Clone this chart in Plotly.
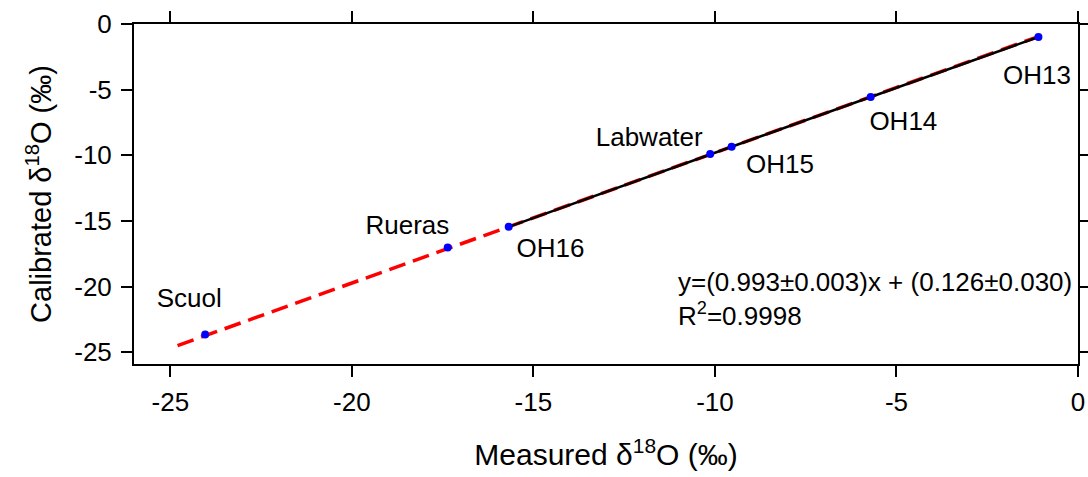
import plotly.graph_objects as go

names = ["Scuol", "Rueras", "OH16", "Labwater", "OH15", "OH14", "OH13"]
measured = [-24.04, -17.36, -15.68, -10.13, -9.54, -5.71, -1.09]
calibrated = [-23.65, -17.02, -15.45, -9.91, -9.35, -5.56, -0.99]

# label positions (data coords)
label_x = [-24.48, -18.47, -14.53, -11.81, -8.21, -4.81, -1.13]
label_y = [-21.04, -15.47, -17.23, -8.77, -10.88, -7.57, -4.08]

# calibration standards (black line)
std_names = ["OH16", "Labwater", "OH15", "OH14", "OH13"]

slope = 0.993
intercept = 0.126
fit_x = [-24.8, -1.09]
fit_y = [slope * v + intercept for v in fit_x]

x_ticks = [-25, -20, -15, -10, -5, 0]
x_ticktext = ["-25", "-20", "-15", "-10", "-5", "0"]
y_ticks = [0, -5, -10, -15, -20, -25]
y_ticktext = ["0", "-5", "-10", "-15", "-20", "-25"]

FONT = "Liberation Sans, Arial, sans-serif"

fig = go.Figure()
fig.add_trace(go.Scatter(x=fit_x, y=fit_y, mode="lines",
                         line=dict(color="#ff0000", width=3.5, dash="17px,8px"),
                         showlegend=False, hoverinfo="skip"))
sx = [m for n, m in zip(names, measured) if n in std_names]
sy = [c for n, c in zip(names, calibrated) if n in std_names]
fig.add_trace(go.Scatter(x=sx, y=sy, mode="lines",
                         line=dict(color="black", width=2.5),
                         showlegend=False))
fig.add_trace(go.Scatter(x=measured, y=calibrated, mode="markers",
                         marker=dict(color="#0000ff", size=8),
                         showlegend=False))
fig.add_trace(go.Scatter(x=label_x, y=label_y, mode="text", text=names,
                         textfont=dict(family=FONT, size=26, color="black"),
                         showlegend=False))

fig.add_annotation(x=-11.08, y=-20.96, xref="x", yref="y", xanchor="left", yanchor="middle",
                   align="left", showarrow=False,
                   text="y=(0.993±0.003)x + (0.126±0.030)<br>R<sup>2</sup>=0.9998",
                   font=dict(family=FONT, size=26, color="black"))

axis_common = dict(showline=True, linecolor="black", linewidth=2, mirror="ticks",
                   ticks="outside", ticklen=11, tickwidth=2, tickcolor="black",
                   showgrid=False, zeroline=False, automargin=False,
                   tickfont=dict(family=FONT, size=26, color="black"))

fig.update_xaxes(range=[-26, 0], tickvals=x_ticks, ticktext=x_ticktext,
                 ticklabelstandoff=3,
                 title=dict(text="Measured δ<sup>18</sup>O (‰)",
                            font=dict(family=FONT, size=30, color="black"), standoff=28),
                 **axis_common)
fig.update_yaxes(range=[-25.9, 0], tickvals=y_ticks, ticktext=y_ticktext,
                 ticklabelstandoff=4,
                 title=dict(text="Calibrated δ<sup>18</sup>O (‰)",
                            font=dict(family=FONT, size=29, color="black"), standoff=14),
                 **axis_common)

fig.update_layout(width=1088, height=477,
                  margin=dict(l=134, r=10, t=24, b=113, autoexpand=False),
                  plot_bgcolor="white", paper_bgcolor="white")

fig.write_html("out.html")
